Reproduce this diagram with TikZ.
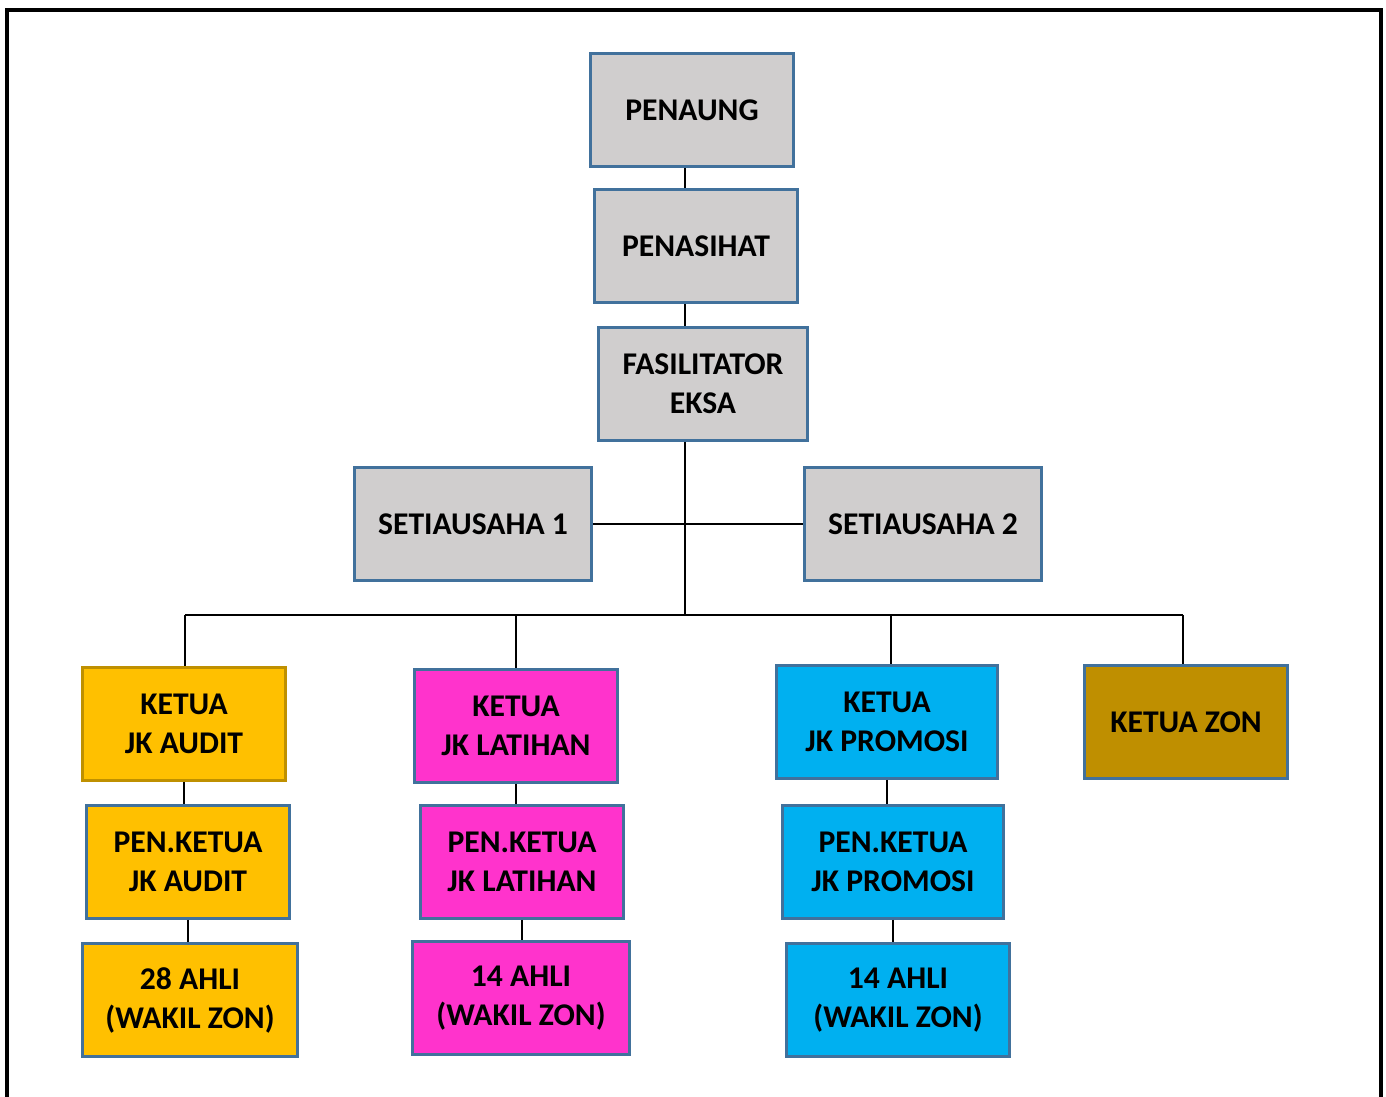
\documentclass[tikz,border=0pt]{standalone}
\usepackage{fontspec}
\setmainfont{Carlito}
\usepackage{tikz}

\definecolor{boxline}{HTML}{41719C}
\definecolor{boxgrey}{HTML}{D0CECE}
\definecolor{audityellow}{HTML}{FFC000}
\definecolor{auditline}{HTML}{BF9000}
\definecolor{latihanpink}{HTML}{FF33CC}
\definecolor{promosiblue}{HTML}{00B0F0}
\definecolor{zongold}{HTML}{BF8F00}

\begin{document}
\begin{tikzpicture}[x = 0.02cm, y = -0.02cm, line width = 0.8pt,
                        unit/.style = {rectangle, draw = boxline, line width = 1.6pt, align = center,
                                       minimum width = 4.06cm, minimum height = 2.26cm,
                                       font = \fontsize{18}{22.2}\selectfont\bfseries},
                        grey/.style = {unit, fill = boxgrey},
                        audit/.style = {unit, fill = audityellow},
                        latihan/.style = {unit, fill = latihanpink},
                        promosi/.style = {unit, fill = promosiblue},
                        zon/.style = {unit, fill = zongold}]
      \useasboundingbox (0, 0) rectangle (1386, 1097);
      \draw [line width = 1.8pt] (7, 1097) -- (7, 10) -- (1381, 10) -- (1381, 1097);

      \node [grey] (penaung) at (692, 110){PENAUNG};
      \node [grey] (penasihat) at (696, 246){PENASIHAT};
      \node [grey, minimum width = 4.18cm] (fasil) at (703, 384){FASILITATOR\\EKSA};
      \node [grey, minimum width = 4.74cm] (sua1) at (473, 524){SETIAUSAHA 1};
      \node [grey, minimum width = 4.74cm] (sua2) at (923, 524){SETIAUSAHA 2};

      \node [audit, draw = auditline] (kaudit) at (184, 724){KETUA\\JK AUDIT};
      \node [audit] (paudit) at (188, 862){PEN.KETUA\\JK AUDIT};
      \node [audit, minimum width = 4.3cm] (aaudit) at (190, 1000){28 AHLI\\(WAKIL ZON)};

      \node [latihan] (klatihan) at (516, 726){KETUA\\JK LATIHAN};
      \node [latihan] (platihan) at (522, 862){PEN.KETUA\\JK LATIHAN};
      \node [latihan, minimum width = 4.34cm] (alatihan) at (521, 998){14 AHLI\\(WAKIL ZON)};

      \node [promosi, minimum width = 4.42cm] (kpromosi) at (887, 722){KETUA\\JK PROMOSI};
      \node [promosi, minimum width = 4.42cm] (ppromosi) at (893, 862){PEN.KETUA\\JK PROMOSI};
      \node [promosi, minimum width = 4.46cm] (apromosi) at (898, 1000){14 AHLI\\(WAKIL ZON)};

      \node [zon] (kzon) at (1186, 722){KETUA ZON};

      \coordinate (bus) at (685, 615);
      \coordinate (busleft) at (185, 615);
      \coordinate (busright) at (1183, 615);
      \coordinate (promdrop) at (891, 615);

      \draw (penaung.south -| bus) -- (penasihat.north -| bus);
      \draw (penasihat.south -| bus) -- (fasil.north -| bus);
      \draw (fasil.south -| bus) -- (bus);
      \draw (sua1.east) -- (sua2.west);
      \draw (busleft) -- (busright);

      \draw (busleft) -- (kaudit.north -| busleft);
      \draw (klatihan.north |- bus) -- (klatihan.north);
      \draw (promdrop) -- (kpromosi.north -| promdrop);
      \draw (busright) -- (kzon.north -| busright);

      \draw (kaudit.south) -- (kaudit.south |- paudit.north);
      \draw (paudit.south) -- (paudit.south |- aaudit.north);
      \draw (klatihan.south) -- (klatihan.south |- platihan.north);
      \draw (platihan.south) -- (platihan.south |- alatihan.north);
      \draw (kpromosi.south) -- (kpromosi.south |- ppromosi.north);
      \draw (ppromosi.south) -- (ppromosi.south |- apromosi.north);
      \end{tikzpicture}
\end{document}
